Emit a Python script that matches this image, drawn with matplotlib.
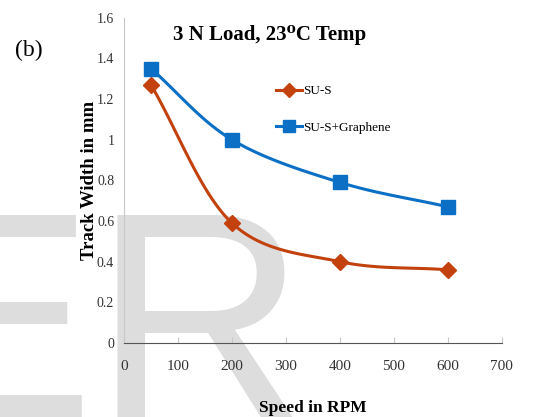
import numpy as np
import matplotlib.pyplot as plt

speed = [50, 200, 400, 600]
su_s = [1.27, 0.59, 0.40, 0.36]
su_s_graphene = [1.35, 1.00, 0.79, 0.67]

x_ticks = [0, 100, 200, 300, 400, 500, 600, 700]
y_ticks = [0, 0.2, 0.4, 0.6, 0.8, 1, 1.2, 1.4, 1.6]
y_labels = ["0", "0.2", "0.4", "0.6", "0.8", "1", "1.2", "1.4", "1.6"]


def smooth(xs, ys, n=40):
    # Catmull-Rom style smoothing like Excel's smoothed line
    xs = np.asarray(xs, float)
    ys = np.asarray(ys, float)
    px = np.concatenate([[2 * xs[0] - xs[1]], xs, [2 * xs[-1] - xs[-2]]])
    py = np.concatenate([[2 * ys[0] - ys[1]], ys, [2 * ys[-1] - ys[-2]]])
    ox, oy = [], []
    for i in range(1, len(px) - 2):
        t = np.linspace(0, 1, n)
        for p, out in ((px, ox), (py, oy)):
            p0, p1, p2, p3 = p[i - 1], p[i], p[i + 1], p[i + 2]
            out.extend(0.5 * (2 * p1 + (-p0 + p2) * t
                              + (2 * p0 - 5 * p1 + 4 * p2 - p3) * t ** 2
                              + (-p0 + 3 * p1 - 3 * p2 + p3) * t ** 3))
    return ox, oy


fig = plt.figure(figsize=(5.39, 4.17), dpi=100)
ax = fig.add_axes([0.230, 0.1775, 0.701, 0.78])
ax.patch.set_alpha(0)

# watermark
fig.text(-0.19, 0.0, "ER", fontsize=212, family="Liberation Sans",
         color="#dddddd", ha="left", va="baseline", zorder=-1)

red = "#c2410c"
blue = "#0b6fc6"

sx, sy = smooth(speed, su_s)
ax.plot(sx, sy, color=red, lw=2.2)
ax.plot(speed, su_s, "D", color=red, ms=8, ls="none")
ax.plot([], [], color=red, lw=2.2, marker="D", ms=7, label="SU-S")

gx, gy = smooth(speed, su_s_graphene)
ax.plot(gx, gy, color=blue, lw=2.2)
ax.plot(speed, su_s_graphene, "s", color=blue, ms=10, ls="none")
ax.plot([], [], color=blue, lw=2.2, marker="s", ms=8, label="SU-S+Graphene")

ax.set_xlim(0, 700)
ax.set_ylim(0, 1.6)
ax.set_xticks(x_ticks)
ax.set_yticks(y_ticks)
ax.set_yticklabels(y_labels)
for s in ["top", "right"]:
    ax.spines[s].set_visible(False)
ax.spines["left"].set_color("#c8c8c8")
ax.spines["bottom"].set_color("#555555")
ax.tick_params(axis="x", direction="in", length=4, color="#c8c8c8",
               labelsize=11, labelcolor="#333333", pad=12)
ax.tick_params(axis="y", length=0, labelsize=10, labelcolor="#333333", pad=7)
for lab in ax.get_xticklabels() + ax.get_yticklabels():
    lab.set_family("Liberation Serif")

ax.set_xlabel("Speed in RPM", family="Liberation Serif", fontweight="bold",
              fontsize=12.5)
ax.xaxis.set_label_coords(0.5, -0.175)
ax.set_ylabel("Track Width in mm", family="Liberation Serif", fontweight="bold",
              fontsize=13.5)
ax.yaxis.set_label_coords(-0.068, 0.5)

fig.text(0.50, 0.905, "3 N Load, 23\u2070C Temp",
         family=["Liberation Serif", "DejaVu Serif"], fontweight="bold",
         fontsize=15, ha="center")
fig.text(0.028, 0.865, "(b)", family="Liberation Serif", fontsize=17)

leg = ax.legend(loc="upper left", bbox_to_anchor=(0.37, 0.83), frameon=False,
                prop={"family": "Liberation Serif", "size": 9.5},
                handlelength=2.0, handletextpad=0.1, labelspacing=1.85)

fig.savefig("out.png", dpi=100)
